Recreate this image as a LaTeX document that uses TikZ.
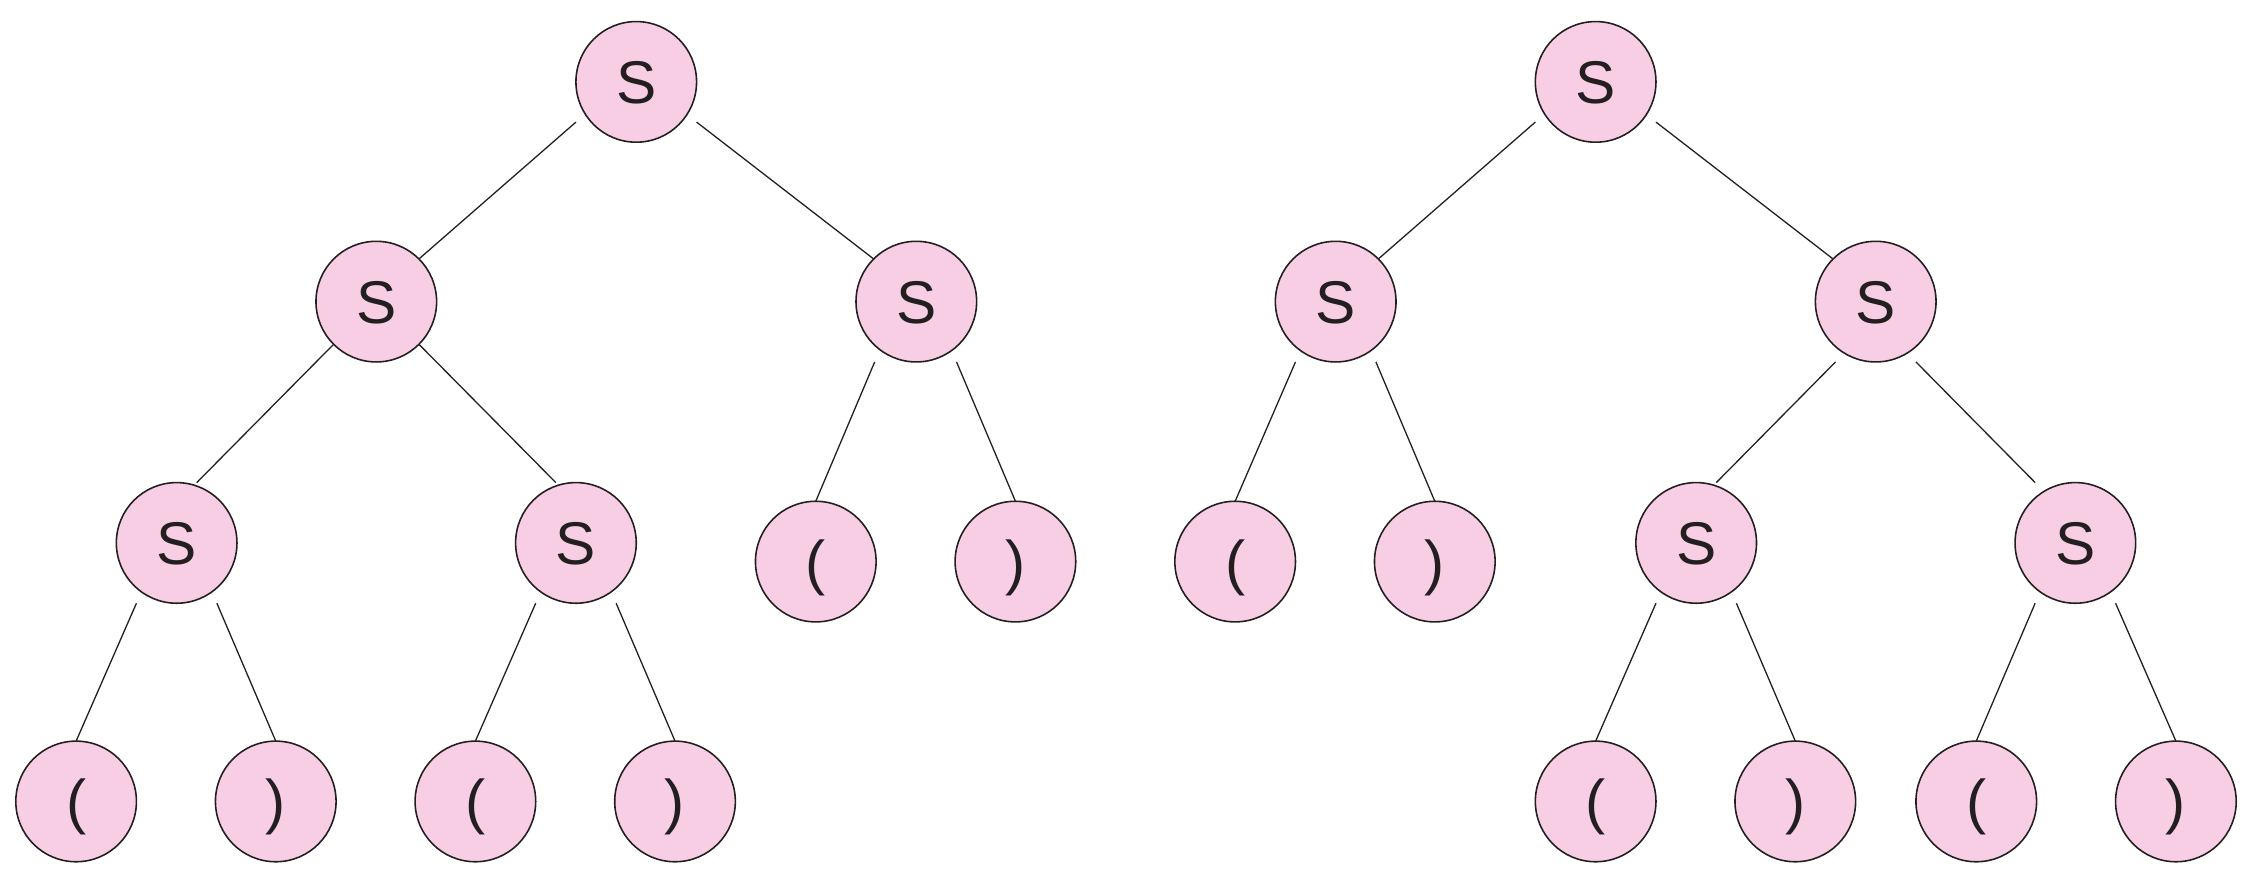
\documentclass[tikz,border=0pt]{standalone}
\usepackage{fontspec}
\setmainfont{Liberation Sans}
\usetikzlibrary{calc}
\definecolor{nodefill}{HTML}{F7CEE3}
\definecolor{ink}{HTML}{231F20}
\tikzset{
  tn/.style={circle, draw=ink, line width=0.55pt, fill=nodefill, inner sep=0pt, outer sep=0pt,
    minimum size=42pt, text=ink, font=\fontsize{21}{21}\selectfont, text height=15pt, text depth=0pt},
  edge/.style={draw=ink, line width=0.45pt}
}
\begin{document}
\begin{tikzpicture}[x=0.5pt, y=-0.5pt]
\useasboundingbox (0,0) rectangle (1568,612.7);
% left tree
\node[tn] (R1) at (443,57) {S};
\node[tn] (A) at (262,210) {S};
\node[tn] (B) at (638,210) {S};
\node[tn] (C) at (123,378) {S};
\node[tn] (D) at (401,378) {S};
\node[tn] (E) at (568,391) {(};
\node[tn] (F) at (707,391) {)};
\node[tn] (G) at (53,558) {(};
\node[tn] (H) at (192,558) {)};
\node[tn] (I) at (331,558) {(};
\node[tn] (J) at (470,558) {)};
% right tree
\node[tn] (R2) at (1111,57) {S};
\node[tn] (K) at (930,210) {S};
\node[tn] (L) at (1306,210) {S};
\node[tn] (M) at (860,391) {(};
\node[tn] (N) at (999,391) {)};
\node[tn] (O) at (1181,378) {S};
\node[tn] (P) at (1445,378) {S};
\node[tn] (Q) at (1111,558) {(};
\node[tn] (R) at (1250,558) {)};
\node[tn] (T) at (1376,558) {(};
\node[tn] (U) at (1515,558) {)};
% left edges
\draw[edge] ($(R1)+(-42,28)$) -- (A.north east);
\draw[edge] ($(R1)+(42,28)$) -- (B.north west);
\draw[edge] (A.south west) -- ($(C)+(14,-42)$);
\draw[edge] (A.south east) -- ($(D)+(-14,-42)$);
\draw[edge] ($(B)+(-29,42)$) -- (E.north);
\draw[edge] ($(B)+(28,42)$) -- (F.north);
\draw[edge] ($(C)+(-28,42)$) -- (G.north);
\draw[edge] ($(C)+(28,42)$) -- (H.north);
\draw[edge] ($(D)+(-28,42)$) -- (I.north);
\draw[edge] ($(D)+(28,42)$) -- (J.north);
% right edges
\draw[edge] ($(R2)+(-42,28)$) -- (K.north east);
\draw[edge] ($(R2)+(42,28)$) -- (L.north west);
\draw[edge] ($(K)+(-28,42)$) -- (M.north);
\draw[edge] ($(K)+(28,42)$) -- (N.north);
\draw[edge] ($(L)+(-28,42)$) -- ($(O)+(14,-42)$);
\draw[edge] ($(L)+(28,42)$) -- ($(P)+(-28,-42)$);
\draw[edge] ($(O)+(-28,42)$) -- (Q.north);
\draw[edge] ($(O)+(28,42)$) -- (R.north);
\draw[edge] ($(P)+(-28,42)$) -- (T.north);
\draw[edge] ($(P)+(28,42)$) -- (U.north);
\end{tikzpicture}
\end{document}
